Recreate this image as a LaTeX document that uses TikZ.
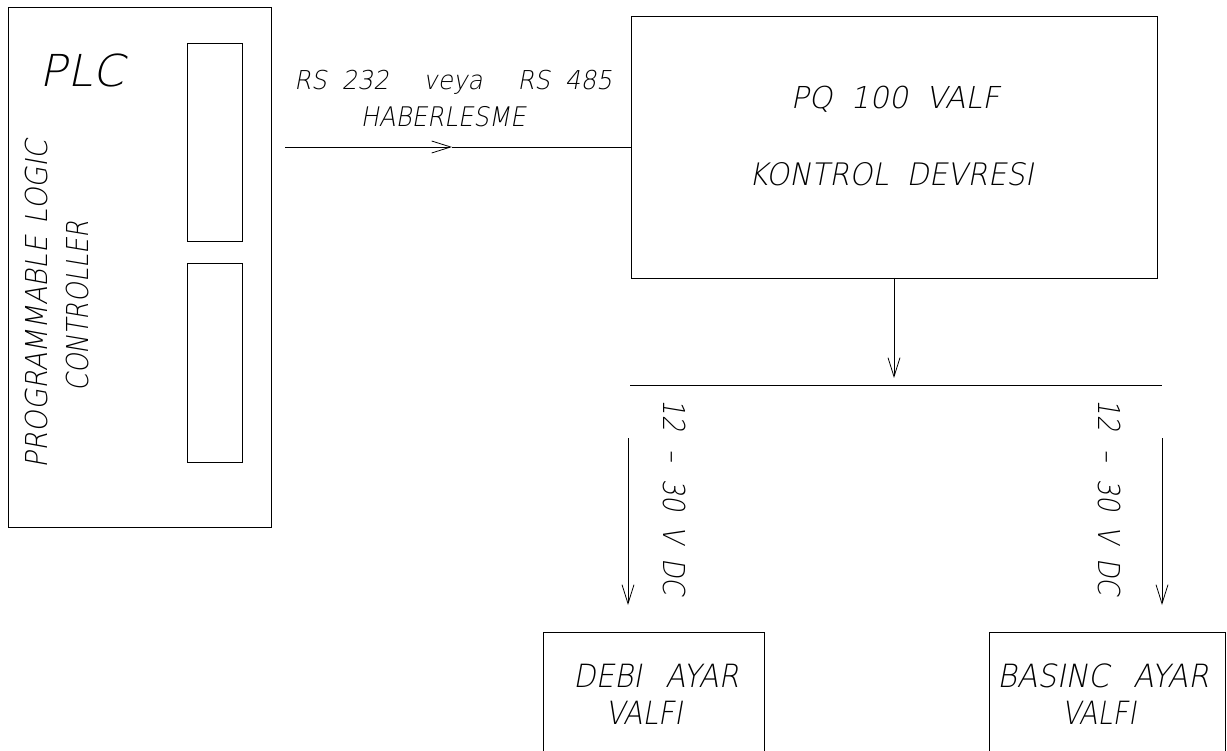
\documentclass[tikz,border=0pt]{standalone}
\usepackage{graphicx}
\usepackage{fontspec}
\usetikzlibrary{arrows.meta}
\newfontfamily\cadfont{DejaVuSans-ExtraLight.ttf}[FakeSlant=0.2]
\newdimen\cadw
\newcommand{\cadfit}[2]{\settowidth{\cadw}{#2}\scalebox{\fpeval{#1/\cadw}}[1]{#2}}
\tikzset{
  box/.style={draw, line width=0.8pt, inner sep=0pt, outer sep=0pt, anchor=north west},
  lbl/.style={inner sep=0pt, outer sep=0pt, anchor=base},
  fs/.style={font={\cadfont\fontsize{#1pt}{#1pt}\selectfont}},
  arr/.style={-{Straight Barb[length=19pt,width=12pt]}, line width=0.8pt},
  wire/.style={line width=0.8pt}
}
\begin{document}
\begin{tikzpicture}[x=1pt,y=-1pt]
\useasboundingbox (0,0) rectangle (1227,751);
\clip (0,0) rectangle (1227,751);
% boxes
\node[box, minimum width=263pt, minimum height=520pt] (plc) at (8,7) {};
\node[box, minimum width=55pt, minimum height=198pt] (slot1) at (187,43) {};
\node[box, minimum width=55pt, minimum height=199pt] (slot2) at (187,263) {};
\node[box, minimum width=526pt, minimum height=262pt] (pq) at (631,16) {};
\node[box, minimum width=221pt, minimum height=170pt] (debi) at (543,632) {};
\node[box, minimum width=236pt, minimum height=170pt] (basinc) at (989,632) {};
% labels
\node[lbl, fs=44] (plct) at (82,87) {\cadfit{85}{PLC}};
\node[lbl, fs=30.2, rotate=90] (plcl1) at (47,304) {\cadfit{328}{PROGRAMMABLE\hspace{.45em}LOGIC}};
\node[lbl, fs=30.2, rotate=90] (plcl2) at (88,306.5) {\cadfit{170}{CONTROLLER}};
\node[lbl, fs=26] (rs) at (453,90) {\cadfit{318}{RS\hspace{.6em}232\hspace{1.4em}veya\hspace{1.4em}RS\hspace{.6em}485}};
\node[lbl, fs=27] (hab) at (443,127) {\cadfit{165}{HABERLESME}};
\node[lbl, fs=30.2] (pq1) at (895,109) {\cadfit{209}{PQ\hspace{.6em}100\hspace{.6em}VALF}};
\node[lbl, fs=31] (pq2) at (891,186) {\cadfit{285}{KONTROL\hspace{.6em}DEVRESI}};
\node[lbl, fs=30.2, rotate=-90] (v1) at (663,497.5) {\cadfit{196}{12\hspace{.7em}–\hspace{.7em}30\hspace{.6em}V\hspace{.6em}DC}};
\node[lbl, fs=30.2, rotate=-90] (v2) at (1098,497.5) {\cadfit{196}{12\hspace{.7em}–\hspace{.7em}30\hspace{.6em}V\hspace{.6em}DC}};
\node[lbl, fs=32] (d1) at (656,687) {\cadfit{166}{DEBI\hspace{.8em}AYAR}};
\node[lbl, fs=32] (d2) at (644,724) {\cadfit{77}{VALFI}};
\node[lbl, fs=32] (b1) at (1103,687) {\cadfit{212}{BASINC\hspace{.8em}AYAR}};
\node[lbl, fs=32] (b2) at (1099,724) {\cadfit{74}{VALFI}};
% connectors
\coordinate (rsstart) at (285,147);
\coordinate (rsmid) at (452,147);
\draw[arr] (rsstart) -- (rsmid);
\draw[wire] (rsmid) -- (pq.west);
\coordinate (ctip) at (894,378);
\draw[arr] (pq.south) -- (ctip);
\coordinate (busL) at (630,385);
\coordinate (busR) at (1162,385);
\draw[wire] (busL) -- (busR);
\coordinate (la1) at (628,438);
\coordinate (la2) at (628,605);
\draw[arr] (la1) -- (la2);
\coordinate (ra1) at (1162,438);
\coordinate (ra2) at (1162,605);
\draw[arr] (ra1) -- (ra2);
\end{tikzpicture}
\end{document}
